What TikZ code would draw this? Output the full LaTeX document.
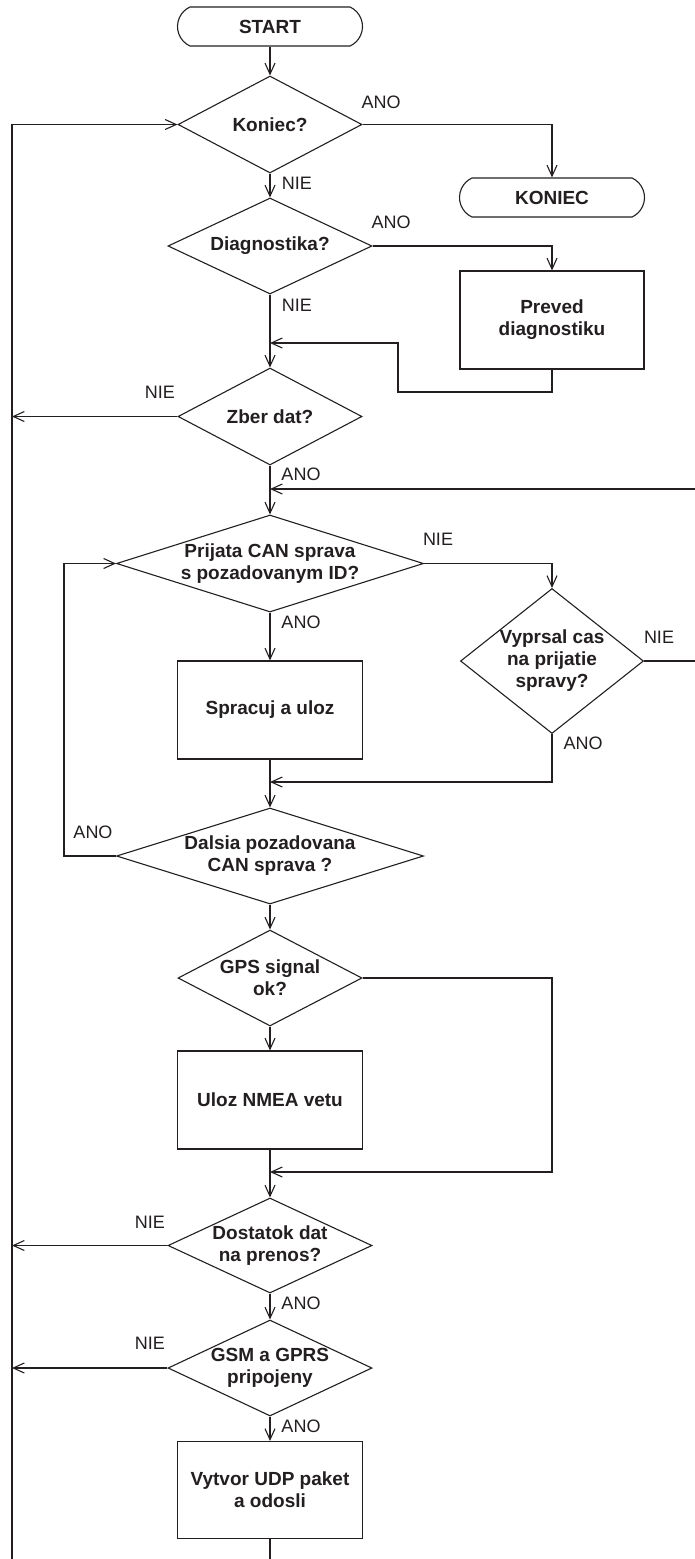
\documentclass[tikz,border=0pt]{standalone}
\usepackage{fontspec}
\setmainfont{Liberation Sans}
\usetikzlibrary{shapes.geometric,shapes.misc,arrows.meta}
\definecolor{ink}{HTML}{231F20}
% zero-width line, so the text never widens a decision diamond
\newcommand{\zline}[1]{\makebox[0pt]{#1}}
\begin{document}
\begin{tikzpicture}[x=1pt,y=-1pt,
  txt/.style={font=\fontsize{18}{22}\selectfont, text=ink},
  bold/.style={font=\bfseries\fontsize{19}{22}\selectfont},
  flow/.style={draw=ink, line width=1.1pt},
  arr/.style={flow, -{Straight Barb[length=11pt,width=10pt,line width=1.1pt]}},
  terminal/.style={txt, bold, draw=ink, line width=1.1pt, rounded rectangle,
    rounded rectangle arc length=130, minimum width=185pt, minimum height=39pt,
    inner sep=0pt},
  decision/.style={txt, bold, draw=ink, line width=1.1pt, diamond, inner sep=0pt,
    align=center},
  process/.style={txt, bold, draw=ink, line width=1.1pt, rectangle, minimum width=185pt,
    minimum height=98pt, inner sep=0pt, align=center},
  lbl/.style={txt, inner sep=0pt}
]
\useasboundingbox[fill=white] (0,0) rectangle (695,1559);

% guide lines and junctions
\coordinate (loopL) at (12,0);
\coordinate (loopI) at (64,0);
\coordinate (rightE) at (696,0);
\coordinate (j1) at (270,343);
\coordinate (retA) at (398,392);
\coordinate (j2) at (270,489);
\coordinate (j3) at (270,782);
\coordinate (gpsR) at (552,1172);
\coordinate (j4) at (270,1172);
\coordinate (bot) at (270,1564);

% blocks
\node[terminal] (start) at (270,26.5) {START};
\node[decision, minimum width=184pt, minimum height=97pt] (koniec) at (270,124.5) {\zline{Koniec?}};
\node[terminal] (end) at (552,197.5) {KONIEC};
\node[decision, minimum width=204pt, minimum height=96pt] (diag) at (270,246) {\zline{Diagnostika?}};
\node[process, minimum width=184pt] (preved) at (552,320) {Preved\\diagnostiku};
\node[decision, minimum width=184pt, minimum height=97pt] (zber) at (270,416.5) {\zline{Zber dat?}};
\node[decision, minimum width=307pt, minimum height=97pt] (prijata) at (270,563.5) {\zline{Prijata CAN sprava}\\\zline{s pozadovanym ID?}};
\node[process] (spracuj) at (270,710) {Spracuj a uloz};
\node[decision, minimum width=183pt, minimum height=145pt] (vyprsal) at (552,661) {\zline{Vyprsal cas}\\\zline{na prijatie}\\\zline{spravy?}};
\node[decision, minimum width=307pt, minimum height=96pt] (dalsia) at (270,856) {\zline{Dalsia pozadovana}\\\zline{CAN sprava ?}};
\node[decision, minimum width=184pt, minimum height=96pt] (gps) at (270,978) {\zline{GPS signal}\\\zline{ok?}};
\node[process] (uloz) at (270,1100) {Uloz NMEA vetu};
\node[decision, minimum width=204pt, minimum height=95pt] (dostatok) at (270,1245.5) {\zline{Dostatok dat}\\\zline{na prenos?}};
\node[decision, minimum width=204pt, minimum height=96pt] (gsm) at (270,1368) {\zline{GSM a GPRS}\\\zline{pripojeny}};
\node[process, minimum height=97pt] (vytvor) at (270,1490) {Vytvor UDP paket\\a odosli};

% connectors
\draw[arr] (start.south) -- (koniec.north);
\draw[arr] (koniec.east) -| (end.north);
\draw[arr] (koniec.south) -- (diag.north);
\draw[arr] (diag.east) -| (preved.north);
\draw[arr] (diag.south) -- (zber.north);
\draw[arr] (preved.south) |- (retA) |- (j1);
\draw[arr] (zber.west) -- (zber.west -| loopL);
\draw[arr] (zber.south) -- (prijata.north);
\draw[arr] (prijata.east) -| (vyprsal.north);
\draw[arr] (prijata.south) -- (spracuj.north);
\draw[arr] (vyprsal.east) -- (vyprsal.east -| rightE) |- (j2);
\draw[arr] (vyprsal.south) |- (j3);
\draw[arr] (spracuj.south) -- (dalsia.north);
\draw[arr] (dalsia.west) -| (prijata.west -| loopI) -- (prijata.west);
\draw[arr] (dalsia.south) -- (gps.north);
\draw[arr] (gps.south) -- (uloz.north);
\draw[arr] (gps.east) -| (gpsR) -- (j4);
\draw[arr] (uloz.south) -- (dostatok.north);
\draw[arr] (dostatok.west) -- (dostatok.west -| loopL);
\draw[arr] (dostatok.south) -- (gsm.north);
\draw[arr] (gsm.west) -- (gsm.west -| loopL);
\draw[arr] (gsm.south) -- (vytvor.north);
\draw[arr] (vytvor.south) -- (bot) -| (koniec.west -| loopL) -- (koniec.west);

% branch labels
\node[lbl] (l1) at (381,102) {ANO};
\node[lbl] (l2) at (297,183) {NIE};
\node[lbl] (l3) at (391,222) {ANO};
\node[lbl] (l4) at (297,305) {NIE};
\node[lbl] (l5) at (160,392) {NIE};
\node[lbl] (l6) at (301,474) {ANO};
\node[lbl] (l7) at (438,539) {NIE};
\node[lbl] (l8) at (301,622) {ANO};
\node[lbl] (l9) at (659,637) {NIE};
\node[lbl] (l10) at (583,743) {ANO};
\node[lbl] (l11) at (93,832) {ANO};
\node[lbl] (l12) at (150,1222) {NIE};
\node[lbl] (l13) at (301,1303) {ANO};
\node[lbl] (l14) at (150,1343) {NIE};
\node[lbl] (l15) at (301,1426) {ANO};
\end{tikzpicture}
\end{document}
